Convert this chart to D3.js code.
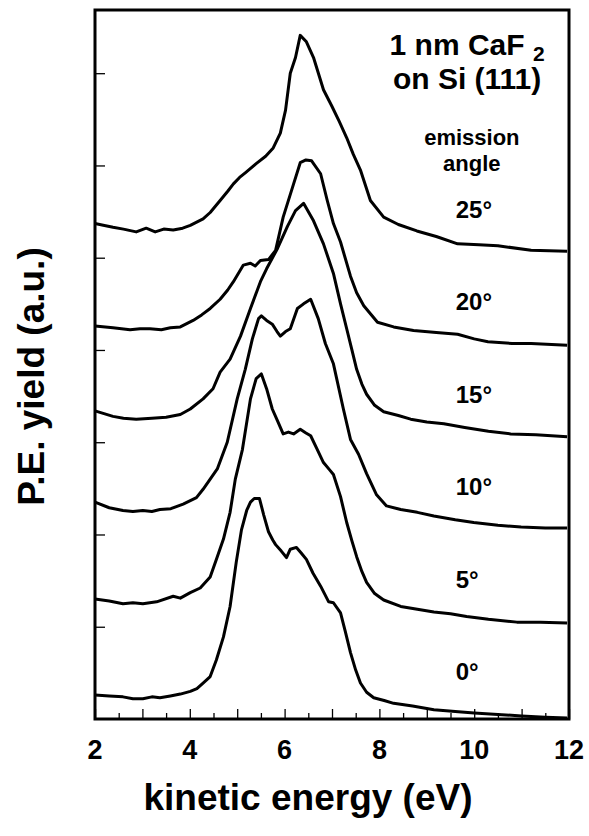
<!DOCTYPE html>
<html>
<head>
<meta charset="utf-8">
<script src="https://cdn.jsdelivr.net/npm/d3@7"></script>
<style>
  body { margin: 0; background: #fff; }
  svg text { font-family: "Liberation Sans", Arial, sans-serif; font-weight: bold; fill: #000; }
</style>
</head>
<body>
<div id="chart"></div>
<script>
// x ticks (eV) and label ticks
const xMajorTicks = [2, 3, 4, 5, 6, 7, 8, 9, 10, 11, 12];
const xMinorTicks = [2.5, 3.5, 4.5, 5.5, 6.5, 7.5, 8.5, 9.5, 10.5, 11.5];
const xLabelTicks = [2, 4, 6, 8, 10, 12];
const yTicks = [1, 2, 3, 4, 5, 6, 7];

const angleLabels = ["0°", "5°", "10°", "15°", "20°", "25°"];
const labelLevels = [0.42, 1.42, 2.43, 3.43, 4.43, 5.43];

// spectra: [kinetic energy (eV), yield (a.u., offset already included)]
const angle0 = [[2.0,0.26],[2.3,0.25],[2.59,0.24],[2.8,0.22],[3.01,0.22],[3.2,0.24],[3.37,0.23],[3.59,0.25],[3.8,0.27],[4.01,0.30],[4.15,0.33],[4.28,0.39],[4.43,0.46],[4.56,0.64],[4.71,0.89],[4.85,1.22],[4.98,1.70],[5.09,2.05],[5.2,2.26],[5.28,2.35],[5.36,2.39],[5.47,2.39],[5.56,2.21],[5.66,2.03],[5.75,1.94],[5.81,1.89],[5.93,1.82],[6.04,1.75],[6.12,1.84],[6.25,1.86],[6.35,1.80],[6.46,1.73],[6.6,1.58],[6.76,1.44],[6.93,1.27],[7.03,1.26],[7.18,1.15],[7.28,0.95],[7.39,0.72],[7.5,0.53],[7.6,0.39],[7.73,0.29],[7.88,0.23],[8.1,0.20],[8.3,0.17],[8.7,0.14],[9.15,0.10],[9.6,0.08],[10.0,0.065],[10.5,0.05],[11.0,0.033],[11.5,0.02],[11.96,0.01]];

const angle5 = [[2.0,1.30],[2.3,1.28],[2.59,1.25],[2.8,1.26],[3.01,1.25],[3.3,1.27],[3.65,1.33],[3.8,1.31],[4.01,1.37],[4.22,1.42],[4.43,1.54],[4.56,1.73],[4.71,1.95],[4.85,2.24],[4.96,2.60],[5.11,2.92],[5.28,3.47],[5.4,3.69],[5.51,3.74],[5.62,3.58],[5.74,3.36],[5.86,3.22],[5.97,3.09],[6.08,3.11],[6.19,3.09],[6.33,3.14],[6.45,3.10],[6.55,3.07],[6.68,2.93],[6.82,2.78],[6.95,2.70],[7.03,2.65],[7.18,2.41],[7.31,2.13],[7.42,1.93],[7.52,1.76],[7.63,1.60],[7.73,1.48],[7.9,1.36],[8.09,1.29],[8.45,1.22],[8.8,1.19],[9.15,1.16],[9.5,1.14],[9.84,1.11],[10.3,1.08],[10.9,1.05],[11.4,1.05],[11.96,1.04]];

const angle10 = [[2.0,2.35],[2.3,2.29],[2.59,2.26],[2.8,2.25],[3.01,2.26],[3.2,2.25],[3.37,2.27],[3.6,2.28],[3.86,2.33],[4.14,2.40],[4.28,2.49],[4.43,2.60],[4.58,2.71],[4.79,3.00],[5.0,3.47],[5.17,3.79],[5.32,4.12],[5.45,4.34],[5.51,4.37],[5.62,4.32],[5.74,4.28],[5.84,4.20],[5.91,4.15],[6.02,4.20],[6.12,4.23],[6.27,4.45],[6.4,4.50],[6.55,4.55],[6.71,4.34],[6.86,4.07],[7.03,3.85],[7.24,3.36],[7.39,3.03],[7.56,2.87],[7.73,2.66],[7.94,2.43],[8.15,2.31],[8.45,2.27],[8.8,2.24],[9.15,2.20],[9.6,2.16],[9.99,2.13],[10.5,2.10],[10.99,2.08],[11.5,2.07],[11.96,2.07]];

const angle15 = [[2.0,3.34],[2.38,3.28],[2.6,3.26],[2.87,3.25],[3.2,3.26],[3.5,3.27],[3.8,3.30],[4.01,3.36],[4.28,3.47],[4.49,3.58],[4.64,3.76],[4.85,3.90],[5.07,4.15],[5.28,4.45],[5.49,4.74],[5.62,4.88],[5.85,5.10],[6.06,5.34],[6.23,5.51],[6.4,5.59],[6.61,5.40],[6.82,5.15],[7.03,4.83],[7.18,4.50],[7.31,4.23],[7.42,4.00],[7.52,3.79],[7.63,3.63],[7.73,3.52],[7.9,3.40],[8.09,3.33],[8.4,3.29],[8.66,3.25],[9.0,3.22],[9.36,3.20],[9.8,3.16],[10.3,3.12],[10.77,3.09],[11.3,3.08],[11.96,3.06]];

const angle20 = [[2.0,4.26],[2.38,4.24],[2.74,4.22],[2.95,4.23],[3.16,4.23],[3.4,4.22],[3.59,4.24],[3.8,4.25],[4.07,4.32],[4.25,4.38],[4.43,4.45],[4.64,4.55],[4.8,4.65],[4.92,4.74],[5.13,4.92],[5.28,4.94],[5.38,4.91],[5.49,4.97],[5.66,4.98],[5.81,5.08],[5.97,5.44],[6.19,5.80],[6.33,6.03],[6.45,6.06],[6.57,6.05],[6.76,5.91],[6.9,5.62],[7.03,5.37],[7.18,5.17],[7.39,4.80],[7.52,4.62],[7.67,4.48],[7.96,4.30],[8.3,4.25],[8.72,4.21],[9.2,4.19],[9.65,4.17],[10.0,4.12],[10.29,4.09],[10.8,4.07],[11.2,4.07],[11.96,4.05]];

const angle25 = [[2.0,5.37],[2.2,5.35],[2.38,5.33],[2.6,5.31],[2.87,5.28],[3.08,5.32],[3.27,5.28],[3.45,5.31],[3.65,5.30],[3.85,5.32],[4.01,5.35],[4.28,5.42],[4.43,5.49],[4.64,5.62],[4.8,5.72],[4.92,5.80],[5.05,5.87],[5.17,5.92],[5.4,6.02],[5.6,6.10],[5.76,6.19],[5.91,6.35],[6.02,6.60],[6.12,7.00],[6.23,7.17],[6.33,7.41],[6.46,7.34],[6.61,7.17],[6.82,6.82],[6.99,6.65],[7.15,6.48],[7.31,6.30],[7.45,6.12],[7.6,5.95],[7.81,5.62],[8.09,5.44],[8.4,5.36],[8.79,5.29],[9.2,5.23],[9.65,5.15],[10.1,5.14],[10.5,5.13],[11.2,5.08],[11.96,5.07]];

const spectra = [angle0, angle5, angle10, angle15, angle20, angle25];

class SpectraD3 {
    margin = {top: 10, right: 20, bottom: 117, left: 95};
    width;
    height;
    svg;
    xScale;
    yScale;

    constructor(el){
        this.el = el;
    }

    create = function (config) {
        this.width = config.size.width - this.margin.left - this.margin.right;
        this.height = config.size.height - this.margin.top - this.margin.bottom;

        this.svg = d3.select(this.el).append("svg")
            .attr("width", config.size.width)
            .attr("height", config.size.height)
            .append("g")
            .attr("transform", "translate(" + this.margin.left + "," + this.margin.top + ")");

        this.xScale = d3.scaleLinear().domain([2, 12]).range([0, this.width]);
        this.yScale = d3.scaleLinear().domain([0, 7.685]).range([this.height, 0]);
    }

    renderAxes = function () {
        // inward ticks on the bottom, no default labels
        const bottomMajor = d3.axisTop(this.xScale).tickValues(xMajorTicks).tickSize(10).tickFormat("");
        const bottomMinor = d3.axisTop(this.xScale).tickValues(xMinorTicks).tickSize(6).tickFormat("");
        const leftAxis = d3.axisRight(this.yScale).tickValues(yTicks).tickSize(10).tickFormat("");

        [bottomMajor, bottomMinor].forEach(ax => {
            this.svg.append("g")
                .attr("class", "xTicks")
                .attr("transform", "translate(0," + this.height + ")")
                .call(ax);
        });
        this.svg.append("g").attr("class", "yTicks").call(leftAxis);

        this.svg.selectAll(".xTicks .domain, .yTicks .domain").remove();
        this.svg.selectAll(".tick line").attr("stroke", "#000").attr("stroke-width", 1.3);

        // tick labels
        this.svg.selectAll(".xLabel")
            .data(xLabelTicks)
            .join("text")
            .attr("class", "xLabel")
            .attr("x", d => this.xScale(d))
            .attr("y", this.height + 40)
            .attr("text-anchor", "middle")
            .style("font-size", "27px")
            .text(d => d);

        // frame
        this.svg.append("rect")
            .attr("x", 0).attr("y", 0)
            .attr("width", this.width).attr("height", this.height)
            .attr("fill", "none")
            .attr("stroke", "#000")
            .attr("stroke-width", 3);

        // axis titles
        this.svg.append("text")
            .attr("x", 213)
            .attr("y", this.height + 91)
            .attr("text-anchor", "middle")
            .style("font-size", "37px")
            .text("kinetic energy (eV)");

        this.svg.append("text")
            .attr("transform", "translate(-51," + (this.height / 2 + 12) + ") rotate(-90)")
            .attr("text-anchor", "middle")
            .style("font-size", "37px")
            .text("P.E. yield (a.u.)");
    }

    renderSpectra = function () {
        const line = d3.line()
            .x(d => this.xScale(d[0]))
            .y(d => this.yScale(d[1]));

        this.svg.selectAll(".spectrum")
            .data(spectra)
            .join("path")
            .attr("class", "spectrum")
            .attr("d", line)
            .attr("fill", "none")
            .attr("stroke", "#000")
            .attr("stroke-width", 3)
            .attr("stroke-linejoin", "round");
    }

    renderLabels = function () {
        const cx = this.xScale(9.85);
        const title = this.svg.append("text")
            .attr("x", cx)
            .attr("y", 45)
            .attr("text-anchor", "middle")
            .style("font-size", "30px");
        title.append("tspan").text("1 nm CaF ");
        title.append("tspan").attr("dy", 6).style("font-size", "21px").text("2");

        this.svg.append("text")
            .attr("x", cx).attr("y", 79)
            .attr("text-anchor", "middle")
            .style("font-size", "30px")
            .text("on Si (111)");

        // two-line caption
        this.svg.append("text")
            .attr("x", this.xScale(9.95)).attr("y", 135)
            .attr("text-anchor", "middle")
            .style("font-size", "22px")
            .text("emission");
        this.svg.append("text")
            .attr("x", this.xScale(9.95)).attr("y", 161)
            .attr("text-anchor", "middle")
            .style("font-size", "22px")
            .text("angle");

        this.svg.selectAll(".angleLabel")
            .data(angleLabels)
            .join("text")
            .attr("class", "angleLabel")
            .attr("x", this.xScale(9.61))
            .attr("y", (d, i) => this.yScale(labelLevels[i]))
            .style("font-size", "24px")
            .text(d => d);
    }
}

const chart = new SpectraD3(document.getElementById("chart"));
chart.create({size: {width: 589, height: 836}});
chart.renderSpectra();
chart.renderAxes();
chart.renderLabels();
</script>
</body>
</html>
